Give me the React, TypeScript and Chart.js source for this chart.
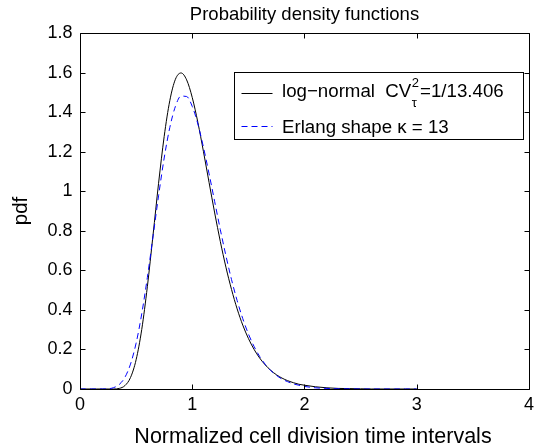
import React, { useEffect, useRef } from "react";
import { Chart, registerables } from "chart.js";

Chart.register(...registerables);

// ---------- data ----------
const X_VALUES = [
  0, 0.05, 0.1, 0.15, 0.2, 0.25, 0.3, 0.35, 0.4, 0.45, 0.5, 0.55, 0.6, 0.65, 0.7, 0.75, 0.8,
  0.85, 0.9, 0.95, 1.0, 1.05, 1.1, 1.15, 1.2, 1.25, 1.3, 1.35, 1.4, 1.45, 1.5, 1.55, 1.6,
  1.65, 1.7, 1.75, 1.8, 1.85, 1.9, 1.95, 2.0, 2.1, 2.2, 2.3, 2.4, 2.5, 2.6, 2.7, 2.8, 2.9, 3.0,
];

const LOGNORMAL_PDF = [
  0, 0, 0, 0, 0, 0, 0, 0.003, 0.017, 0.058, 0.148, 0.301, 0.517, 0.775, 1.04, 1.277, 1.458,
  1.566, 1.598, 1.563, 1.474, 1.348, 1.2, 1.044, 0.89, 0.746, 0.616, 0.503, 0.405, 0.323, 0.256,
  0.201, 0.157, 0.122, 0.094, 0.072, 0.055, 0.042, 0.032, 0.024, 0.019, 0.011, 0.006, 0.003,
  0.002, 0.001, 0, 0, 0, 0, 0,
];

const ERLANG_PDF = [
  0, 0, 0, 0, 0, 0.001, 0.007, 0.023, 0.059, 0.126, 0.232, 0.38, 0.564, 0.769, 0.977, 1.168,
  1.322, 1.429, 1.481, 1.479, 1.429, 1.34, 1.222, 1.088, 0.947, 0.806, 0.674, 0.553, 0.447,
  0.356, 0.279, 0.216, 0.165, 0.125, 0.093, 0.069, 0.05, 0.037, 0.026, 0.019, 0.013, 0.006,
  0.003, 0.001, 0.001, 0, 0, 0, 0, 0, 0,
];

const X_TICKS = [0, 1, 2, 3, 4];
const Y_TICKS = [0, 0.2, 0.4, 0.6, 0.8, 1, 1.2, 1.4, 1.6, 1.8];

const TITLE = "Probability density functions";
const X_LABEL = "Normalized cell division time intervals";
const Y_LABEL = "pdf";
const LEGEND_LOGNORMAL_MAIN = "log\u2212normal  CV";
const LEGEND_LOGNORMAL_SUP = "2";
const LEGEND_LOGNORMAL_SUB = "\u03c4";
const LEGEND_LOGNORMAL_TAIL = "=1/13.406";
const LEGEND_ERLANG = "Erlang shape \u03ba = 13";

const FONT = '"Liberation Sans", Arial, Helvetica, sans-serif';

// ---------- plugins ----------
const framePlugin = {
  id: "frameTicks",
  afterDatasetsDraw(chart: any) {
    const { ctx, chartArea, scales } = chart;
    const { left, right, top, bottom } = chartArea;
    const xs = scales.x;
    const ys = scales.y;
    const L = Math.round(left) + 0.5;
    const R = Math.round(right) + 0.5;
    const T = Math.round(top) + 0.5;
    const B = Math.round(bottom) + 0.5;
    const len = 5;
    ctx.save();
    ctx.strokeStyle = "#000";
    ctx.lineWidth = 1;
    ctx.beginPath();
    ctx.rect(L, T, R - L, B - T);
    X_TICKS.forEach((v) => {
      const px = Math.round(xs.getPixelForValue(v)) + 0.5;
      ctx.moveTo(px, B);
      ctx.lineTo(px, B - len);
      ctx.moveTo(px, T);
      ctx.lineTo(px, T + len);
    });
    Y_TICKS.forEach((v) => {
      const py = Math.round(ys.getPixelForValue(v)) + 0.5;
      ctx.moveTo(L, py);
      ctx.lineTo(L + len, py);
      ctx.moveTo(R, py);
      ctx.lineTo(R - len, py);
    });
    ctx.stroke();
    ctx.restore();
  },
};

const xLabelPlugin = {
  id: "xLabel",
  afterDraw(chart: any) {
    const { ctx, chartArea } = chart;
    ctx.save();
    ctx.fillStyle = "#000";
    ctx.font = `21.5px ${FONT}`;
    ctx.textAlign = "center";
    ctx.textBaseline = "alphabetic";
    ctx.fillText(X_LABEL, (chartArea.left + chartArea.right) / 2 + 8.5, chartArea.bottom + 54);
    ctx.restore();
  },
};

const legendPlugin = {
  id: "boxLegend",
  afterDraw(chart: any) {
    const { ctx, chartArea } = chart;
    const bx = Math.round(chartArea.left) + 154.5;
    const by = Math.round(chartArea.top) + 39.5;
    const bw = 289;
    const bh = 67;
    ctx.save();
    ctx.fillStyle = "#fff";
    ctx.fillRect(bx, by, bw, bh);
    ctx.strokeStyle = "#000";
    ctx.lineWidth = 1;
    ctx.strokeRect(bx, by, bw, bh);

    const lx0 = bx + 7;
    const lx1 = bx + 38;
    const y1 = by + 21;
    const y2 = by + 54;
    ctx.beginPath();
    ctx.moveTo(lx0, y1);
    ctx.lineTo(lx1, y1);
    ctx.strokeStyle = "#000";
    ctx.stroke();
    ctx.beginPath();
    ctx.setLineDash([6, 4]);
    ctx.moveTo(lx0, y2);
    ctx.lineTo(lx1, y2);
    ctx.strokeStyle = "#0000ff";
    ctx.stroke();
    ctx.setLineDash([]);

    const tx = bx + 47.5;
    const base1 = by + 24.8;
    const base2 = by + 60.2;
    ctx.fillStyle = "#000";
    ctx.textAlign = "left";
    ctx.textBaseline = "alphabetic";
    ctx.font = `18.7px ${FONT}`;
    ctx.fillText(LEGEND_LOGNORMAL_MAIN, tx, base1);
    const w1 = ctx.measureText(LEGEND_LOGNORMAL_MAIN).width;
    const sx = tx + w1 + 0.5;
    ctx.font = `13px ${FONT}`;
    ctx.fillText(LEGEND_LOGNORMAL_SUP, sx, base1 - 10);
    ctx.fillText(LEGEND_LOGNORMAL_SUB, sx, base1 + 9.5);
    const ws = Math.max(
      ctx.measureText(LEGEND_LOGNORMAL_SUP).width,
      ctx.measureText(LEGEND_LOGNORMAL_SUB).width
    );
    ctx.font = `18.7px ${FONT}`;
    ctx.fillText(LEGEND_LOGNORMAL_TAIL, sx + ws + 1, base1);
    ctx.fillText(LEGEND_ERLANG, tx, base2);
    ctx.restore();
  },
};

export default function App() {
  const canvasRef = useRef<HTMLCanvasElement | null>(null);

  useEffect(() => {
    const canvas = canvasRef.current;
    if (!canvas) return;
    const chart = new Chart(canvas, {
      type: "line",
      data: {
        datasets: [
          {
            label: "log-normal",
            data: X_VALUES.map((x, i) => ({ x, y: LOGNORMAL_PDF[i] })),
            borderColor: "#000000",
            borderWidth: 1,
            pointRadius: 0,
            fill: false,
            cubicInterpolationMode: "monotone",
            order: 1,
          },
          {
            label: "Erlang",
            data: X_VALUES.map((x, i) => ({ x, y: ERLANG_PDF[i] })),
            borderColor: "#0000ff",
            borderWidth: 1,
            borderDash: [6, 4],
            pointRadius: 0,
            fill: false,
            cubicInterpolationMode: "monotone",
            order: 0,
          },
        ],
      },
      options: {
        animation: false,
        responsive: false,
        devicePixelRatio: 1,
        layout: { padding: { left: 0, right: 8, top: 0, bottom: 0 } },
        plugins: {
          legend: { display: false },
          tooltip: { enabled: false },
          title: {
            display: true,
            text: TITLE,
            fullSize: false,
            color: "#000",
            font: { family: FONT, size: 18.5, weight: "normal", lineHeight: 1.2 },
            padding: { top: 3.4, bottom: 7.4 },
          },
        },
        scales: {
          x: {
            type: "linear",
            min: 0,
            max: 4,
            afterBuildTicks: (s: any) => {
              s.ticks = X_TICKS.map((v) => ({ value: v }));
            },
            afterFit: (s: any) => {
              s.height = 59;
            },
            grid: { display: false, drawTicks: false, tickLength: 0 },
            border: { display: false },
            ticks: {
              color: "#000",
              font: { family: FONT, size: 18 },
              padding: 5,
              maxRotation: 0,
              autoSkip: false,
              callback: (v: any) => String(Math.round(Number(v) * 10) / 10),
            },
            title: { display: false, text: X_LABEL },
          },
          y: {
            type: "linear",
            min: 0,
            max: 1.8,
            afterBuildTicks: (s: any) => {
              s.ticks = Y_TICKS.map((v) => ({ value: v }));
            },
            afterFit: (s: any) => {
              s.width = 80;
            },
            grid: { display: false, drawTicks: false, tickLength: 0 },
            border: { display: false },
            ticks: {
              color: "#000",
              font: { family: FONT, size: 18 },
              padding: 7.5,
              autoSkip: false,
              callback: (v: any) => String(Math.round(Number(v) * 10) / 10),
            },
            title: {
              display: true,
              text: Y_LABEL,
              color: "#000",
              font: { family: FONT, size: 20.5, lineHeight: 1 },
              padding: { top: 11.5, bottom: 0 },
            },
          },
        },
      },
      plugins: [framePlugin, xLabelPlugin, legendPlugin],
    } as any);
    return () => chart.destroy();
  }, []);

  return (
    <div
      style={{
        position: "absolute",
        left: 0,
        top: 0,
        width: 539,
        height: 448,
        background: "#fff",
      }}
    >
      <canvas ref={canvasRef} width={539} height={448} style={{ display: "block" }} />
    </div>
  );
}
